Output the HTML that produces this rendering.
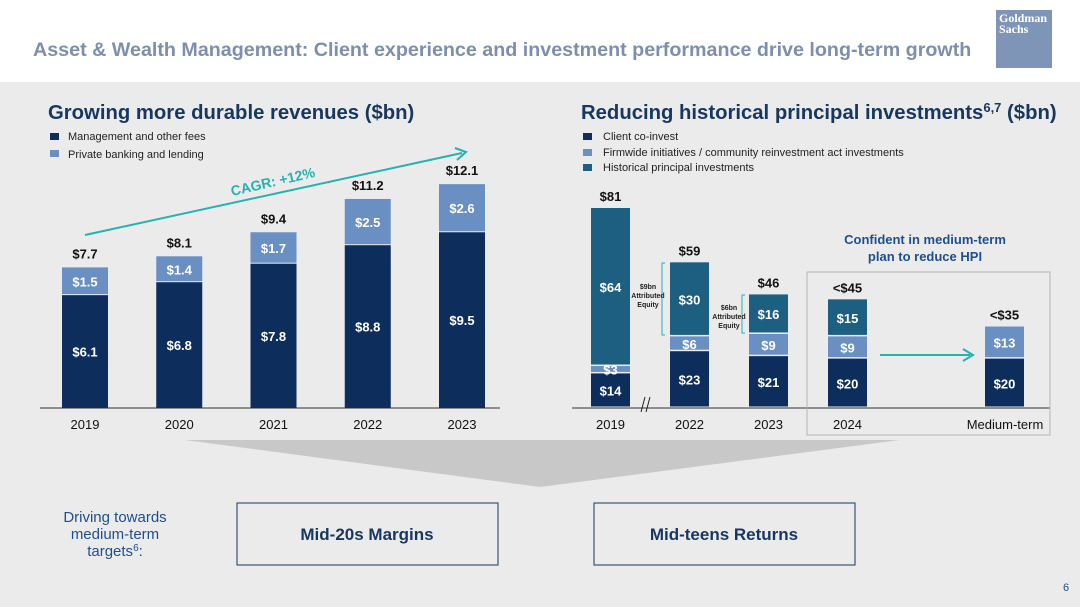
<!DOCTYPE html>
<html><head><meta charset="utf-8"><style>
body{margin:0;width:1080px;height:607px;overflow:hidden;font-family:"Liberation Sans",sans-serif;background:#ebebec;position:relative}
.hdr{position:absolute;left:0;top:0;width:1080px;height:82px;background:#fff}
.t{position:absolute;white-space:nowrap}
</style></head><body>
<div class="hdr"></div>
<div class="t" style="left:33px;top:39px;font-size:19.7px;font-weight:bold;color:#7d8fad">Asset &amp; Wealth Management: Client experience and investment performance drive long-term growth</div>
<div style="position:absolute;left:996px;top:10px;width:56px;height:58px;background:#7f95b8;color:#fff;font-family:'Liberation Serif',serif;font-size:12px;line-height:11px;padding:3px 0 0 3px;box-sizing:border-box;font-weight:bold">Goldman<br>Sachs</div>
<svg width="1080" height="607" style="position:absolute;left:0;top:0" font-family="Liberation Sans, sans-serif">
<text x="48" y="119" font-size="20.3" font-weight="bold" fill="#17375e">Growing more durable revenues ($bn)</text>
<rect x="50" y="133" width="9" height="7" fill="#0d2e5c"/><text x="68" y="140" font-size="11" fill="#222">Management and other fees</text>
<rect x="50" y="150" width="9" height="7" fill="#6a8fc2"/><text x="68" y="158" font-size="11" fill="#222">Private banking and lending</text>
<text x="581" y="119" font-size="20.3" font-weight="bold" fill="#17375e">Reducing historical principal investments<tspan font-size="13" dy="-7">6,7</tspan><tspan dy="7"> ($bn)</tspan></text>
<rect x="583" y="133" width="9" height="7" fill="#0d2e5c"/><text x="603" y="140" font-size="11" fill="#222">Client co-invest</text>
<rect x="583" y="149" width="9" height="7" fill="#6a8fc2"/><text x="603" y="156" font-size="11" fill="#222">Firmwide initiatives / community reinvestment act investments</text>
<rect x="583" y="164" width="9" height="7" fill="#1d5f80"/><text x="603" y="171" font-size="11" fill="#222">Historical principal investments</text>
<g id="left"></g><g id="right"></g>
<line x1="85" y1="235" x2="462" y2="153" stroke="#22b2b0" stroke-width="2"/>
<path d="M455,148 L466,152 L457,160" fill="none" stroke="#22b2b0" stroke-width="2"/>
<text x="232" y="196" font-size="14" font-weight="bold" fill="#22b2b0" transform="rotate(-13 232 196)">CAGR: +12%</text>
<rect x="807" y="272" width="243" height="163" fill="none" stroke="#b5b5b5"/>
<text x="925" y="244" font-size="13" font-weight="bold" fill="#1f4e8c" text-anchor="middle">Confident in medium-term</text>
<text x="925" y="261" font-size="13" font-weight="bold" fill="#1f4e8c" text-anchor="middle">plan to reduce HPI</text>
<line x1="880" y1="355" x2="970" y2="355" stroke="#22b2b0" stroke-width="2"/><path d="M963,349 L973,355 L963,361" fill="none" stroke="#22b2b0" stroke-width="2"/>
<path d="M665,263 L662,263 L662,335 L665,335" fill="none" stroke="#22b2b0"/>
<text x="648" y="289" font-size="7" font-weight="bold" text-anchor="middle" fill="#222">$9bn</text><text x="648" y="298" font-size="7" font-weight="bold" text-anchor="middle" fill="#222">Attributed</text><text x="648" y="307" font-size="7" font-weight="bold" text-anchor="middle" fill="#222">Equity</text>
<path d="M745,295 L742,295 L742,333 L745,333" fill="none" stroke="#22b2b0"/>
<text x="729" y="310" font-size="7" font-weight="bold" text-anchor="middle" fill="#222">$6bn</text><text x="729" y="319" font-size="7" font-weight="bold" text-anchor="middle" fill="#222">Attributed</text><text x="729" y="328" font-size="7" font-weight="bold" text-anchor="middle" fill="#222">Equity</text>
<path d="M641,412 L645,397 M646,412 L650,397" stroke="#222"/>
<polygon points="185,440 900,440 540,487" fill="#c8c8c8"/>
<text x="115" y="522" font-size="15" fill="#1f4e8c" text-anchor="middle">Driving towards</text>
<text x="115" y="539" font-size="15" fill="#1f4e8c" text-anchor="middle">medium-term</text>
<text x="115" y="556" font-size="15" fill="#1f4e8c" text-anchor="middle">targets<tspan font-size="10" dy="-5">6</tspan><tspan dy="5">:</tspan></text>
<rect x="237" y="503" width="261" height="62" fill="none" stroke="#17375e"/>
<text x="367" y="540" font-size="17" font-weight="bold" fill="#17375e" text-anchor="middle">Mid-20s Margins</text>
<rect x="594" y="503" width="261" height="62" fill="none" stroke="#17375e"/>
<text x="724" y="540" font-size="17" font-weight="bold" fill="#17375e" text-anchor="middle">Mid-teens Returns</text>
<text x="1063" y="591" font-size="11" fill="#1f4e8c">6</text>
</svg>
<script>
const NS="http://www.w3.org/2000/svg";
const leftYears=["2019","2020","2021","2022","2023"];
const leftFees=[6.1,6.8,7.8,8.8,9.5];
const leftBanking=[1.5,1.4,1.7,2.5,2.6];
const leftTotals=["$7.7","$8.1","$9.4","$11.2","$12.1"];
const rightCats=["2019","2022","2023","2024","Medium-term"];
const rightCoinvest=[14,23,21,20,20];
const rightFirmwide=[3,6,9,9,13];
const rightHpi=[64,30,16,15,0];
const rightTotals=["$81","$59","$46","<$45","<$35"];
function mk(g,tag,a,txt){const e=document.createElementNS(NS,tag);for(const k in a)e.setAttribute(k,a[k]);if(txt!=null)e.textContent=txt;g.appendChild(e);return e;}
const base=408;
const lY=v=>base-v*18.5, lX=i=>62+i*94.25;
const L=document.getElementById("left");
mk(L,"line",{x1:40,y1:base,x2:500,y2:base,stroke:"#333"});
leftYears.forEach((y,i)=>{
 const x=lX(i),w=46,f=leftFees[i],b=leftBanking[i];
 let r=mk(L,"rect",{x:x,y:lY(f),width:w,height:f*18.5,fill:"#0d2e5c"});
 
 
 r=mk(L,"rect",{x:x,y:lY(f+b),width:w,height:b*18.5-1,fill:"#6a8fc2"});
 
 
 mk(L,"text",{x:x+w/2,y:(lY(f)+base)/2+5,"font-size":13,"font-weight":"bold",fill:"#fff","text-anchor":"middle"},"$"+f.toFixed(1));
 mk(L,"text",{x:x+w/2,y:(lY(f)+lY(f+b))/2+5,"font-size":13,"font-weight":"bold",fill:"#fff","text-anchor":"middle"},"$"+b.toFixed(1));
 mk(L,"text",{x:x+w/2,y:lY(f+b)-9,"font-size":13,"font-weight":"bold",fill:"#111","text-anchor":"middle"},leftTotals[i]);
 mk(L,"text",{x:x+w/2,y:429,"font-size":13,fill:"#111","text-anchor":"middle"},y);
});
const rs=200/81, rY=v=>base-v*rs, rX=i=>[591,670,749,828,985][i];
const R=document.getElementById("right");
mk(R,"line",{x1:572,y1:base,x2:1050,y2:base,stroke:"#333"});
rightCats.forEach((c,i)=>{
 const x=rX(i),w=39;let acc=0;
 [[rightCoinvest[i],"#0d2e5c","coinvest"],[rightFirmwide[i],"#6a8fc2","firmwide"],[rightHpi[i],"#1d5f80","hpi"]].forEach(([v,col,n])=>{
  if(!v)return;
  const r=mk(R,"rect",{x:x,y:rY(acc+v),width:w,height:v*rs-(acc+v<90?1.5:0),fill:col});
  
  
  mk(R,"text",{x:x+w/2,y:(rY(acc)+rY(acc+v))/2+5,"font-size":13,"font-weight":"bold",fill:"#fff","text-anchor":"middle"},"$"+v);
  acc+=v;
 });
 mk(R,"text",{x:x+w/2,y:rY(acc)-7,"font-size":13,"font-weight":"bold",fill:"#111","text-anchor":"middle"},rightTotals[i]);
 mk(R,"text",{x:i==4?1005:x+w/2,y:429,"font-size":13,fill:"#111","text-anchor":"middle"},c);
});
</script>
</body></html>
